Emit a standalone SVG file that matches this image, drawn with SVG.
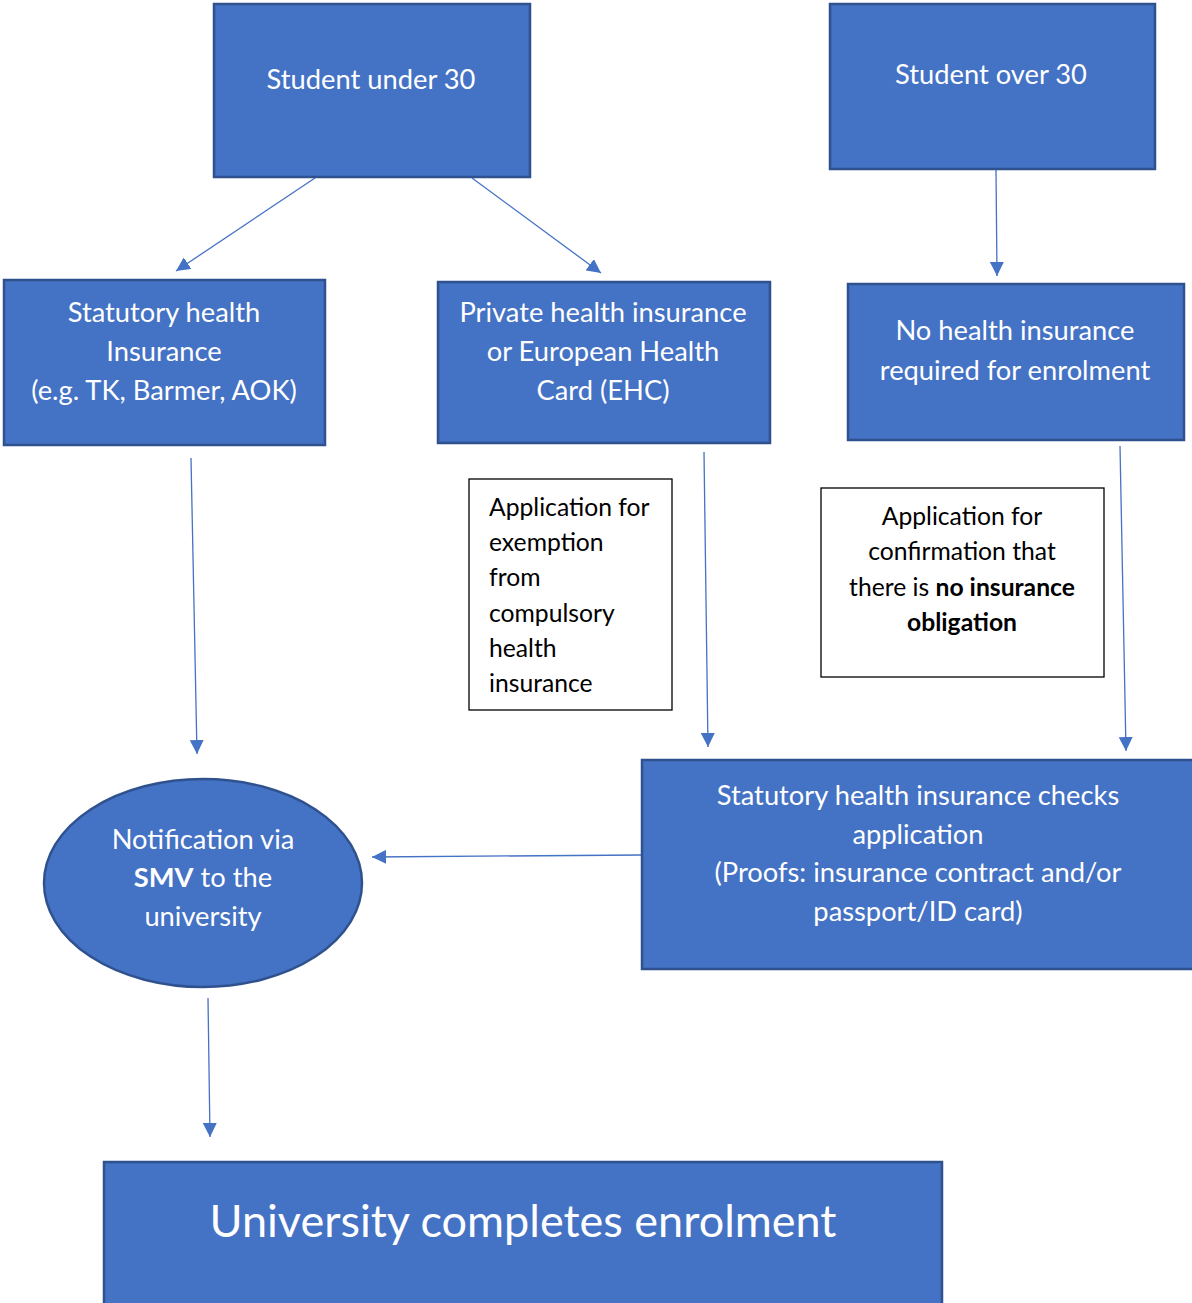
<svg xmlns="http://www.w3.org/2000/svg" width="1192" height="1303" viewBox="0 0 1192 1303">
<defs>
<marker id="ah" viewBox="0 0 10 10" refX="10" refY="5" markerWidth="14" markerHeight="14" markerUnits="userSpaceOnUse" orient="auto">
<path d="M0,0 L10,5 L0,10 z" fill="#4472C4"/>
</marker>
<style>
.box{fill:#4472C4;stroke:#2F528F;stroke-width:2.5}
.tb{fill:#fff;stroke:#000;stroke-width:1.3}
.w{fill:#fff;font-family:Lato,"Liberation Sans",sans-serif;font-size:27.3px;text-anchor:middle}
.k{fill:#000;font-family:Lato,"Liberation Sans",sans-serif;font-size:24.7px}
.c{stroke:#4472C4;stroke-width:1.3;fill:none;marker-end:url(#ah)}
</style>
</defs>
<rect width="1192" height="1303" fill="#fff"/>
<g id="connectors">
<line class="c" x1="315" y1="178" x2="176" y2="271"/>
<line class="c" x1="472" y1="178" x2="601" y2="273"/>
<line class="c" x1="996" y1="170" x2="997" y2="276"/>
<line class="c" x1="191" y1="458" x2="197" y2="754"/>
<line class="c" x1="704" y1="452" x2="708" y2="747"/>
<line class="c" x1="1120" y1="446" x2="1126" y2="751"/>
<line class="c" x1="641" y1="855" x2="372" y2="857"/>
<line class="c" x1="208" y1="998" x2="210" y2="1137"/>
</g>
<g id="n1"><rect class="box" x="214" y="4" width="316" height="173"/><text class="w" x="371" y="89">Student under 30</text></g>
<g id="n2"><rect class="box" x="830" y="4" width="325" height="165"/><text class="w" x="991" y="84">Student over 30</text></g>
<g id="n3"><rect class="box" x="4" y="280" width="321" height="165"/>
<text class="w" x="164" y="322">Statutory health</text><text class="w" x="164" y="361">Insurance</text><text class="w" x="164" y="400">(e.g. TK, Barmer, AOK)</text></g>
<g id="n4"><rect class="box" x="438" y="282" width="332" height="161"/>
<text class="w" x="603" y="322">Private health insurance</text><text class="w" x="603" y="361">or European Health</text><text class="w" x="603" y="400">Card (EHC)</text></g>
<g id="n5"><rect class="box" x="848" y="284" width="336" height="156"/>
<text class="w" x="1015" y="340">No health insurance</text><text class="w" x="1015" y="380">required for enrolment</text></g>
<g id="t1"><rect class="tb" x="469" y="479" width="203" height="231"/>
<text class="k" x="489" y="516">Application for</text><text class="k" x="489" y="551">exemption</text><text class="k" x="489" y="586">from</text><text class="k" x="489" y="622">compulsory</text><text class="k" x="489" y="657">health</text><text class="k" x="489" y="692">insurance</text></g>
<g id="t2"><rect class="tb" x="821" y="488" width="283" height="189"/>
<g text-anchor="middle"><text class="k" x="962" y="525">Application for</text><text class="k" x="962" y="560">confirmation that</text><text class="k" x="962" y="596">there is <tspan font-weight="bold">no insurance</tspan></text><text class="k" x="962" y="631" font-weight="bold">obligation</text></g></g>
<g id="n6"><ellipse class="box" cx="203" cy="883" rx="159" ry="104"/>
<text class="w" x="203" y="849">Notification via</text><text class="w" x="203" y="887"><tspan font-weight="bold">SMV</tspan> to the</text><text class="w" x="203" y="926">university</text></g>
<g id="n7"><rect class="box" x="642" y="760" width="552" height="209"/>
<text class="w" x="918" y="805">Statutory health insurance checks</text><text class="w" x="918" y="844">application</text><text class="w" x="918" y="882">(Proofs: insurance contract and/or</text><text class="w" x="918" y="921">passport/ID card)</text></g>
<g id="n8"><rect class="box" x="104" y="1162" width="838" height="145"/>
<text class="w" x="523" y="1237" style="font-size:45px">University completes enrolment</text></g>
</svg>
